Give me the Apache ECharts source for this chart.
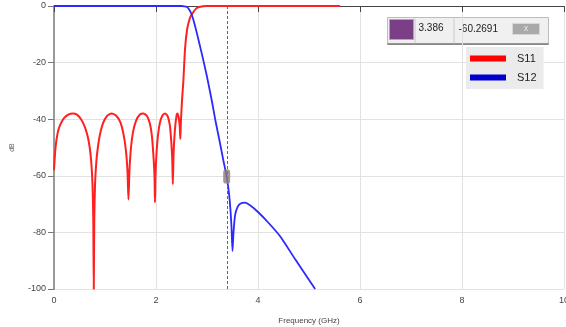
<!DOCTYPE html>
<html>
<head>
<meta charset="utf-8">
<script src="https://cdn.jsdelivr.net/npm/echarts@6/dist/echarts.min.js"></script>
<style>
  html, body { margin: 0; padding: 0; background: #fff; }
  #chart { width: 566px; height: 327px; }
</style>
</head>
<body>
<div id="chart"></div>
<script>
// S11 (red)
const s11Freq = [0, 0.03, 0.07, 0.12, 0.2, 0.3, 0.37, 0.45, 0.53, 0.6, 0.66, 0.7, 0.73, 0.755, 0.77, 0.78,
  0.79, 0.805, 0.83, 0.86, 0.9, 0.96, 1.04, 1.13, 1.22, 1.3, 1.36, 1.41, 1.44, 1.46,
  1.48, 1.51, 1.55, 1.61, 1.68, 1.75, 1.82, 1.88, 1.92, 1.95, 1.97, 1.98,
  1.99, 2.01, 2.04, 2.08, 2.13, 2.18, 2.23, 2.27, 2.3, 2.32, 2.33,
  2.345, 2.37, 2.4, 2.42, 2.445, 2.465, 2.477,
  2.49, 2.515, 2.535, 2.57, 2.61, 2.66, 2.7, 2.8, 2.92, 3.0, 5.61]
const s11Db = [-58, -50, -45, -42, -39.5, -38.2, -38, -38.4, -40, -42.5, -46, -50, -55, -63, -75, -100,
  -75, -63, -55, -50, -45.5, -41.5, -38.8, -38, -38.8, -41, -45, -51, -58, -68.4,
  -58, -50, -44.5, -40.5, -38.4, -38, -38.8, -41.5, -46, -53, -60, -69.4,
  -60, -52, -45.5, -41, -38.6, -38, -39, -42, -48, -55, -63,
  -52, -44, -39, -38, -39.5, -42.5, -47,
  -40, -32, -27, -15, -8.3, -4.5, -3, -0.7, -0.1, 0, 0]

// S12 (blue)
const s12Freq = [0, 2.5, 2.55, 2.6, 2.65, 2.7, 2.75, 2.8, 2.9, 3.0, 3.1, 3.16, 3.25, 3.32, 3.386,
  3.43, 3.46, 3.48, 3.5, 3.52, 3.55, 3.6, 3.66, 3.745, 3.85, 4.0, 4.2, 4.43, 4.73, 5.12]
const s12Db = [0, 0, -0.1, -0.3, -1.2, -3, -6, -9.5, -17, -25, -34, -40, -48, -54.5, -60.27,
  -66, -72, -78, -86.6, -80, -74, -71, -69.8, -69.5, -70.5, -72.8, -76.5, -81.3, -89.5, -100]

const markerFreq = 3.386
const markerDb = -60.2691

const xTicks = [0, 2, 4, 6, 8, 10]
const yTicks = [-100, -80, -60, -40, -20, 0]

const zip = (xs, ys) => xs.map((x, i) => [x, ys[i]])

const font = 'Liberation Sans, Arial, sans-serif'

const chart = echarts.init(document.getElementById('chart'))

const option = {
  animation: false,
  backgroundColor: '#fff',
  grid: { left: 54, right: 2, top: 6, bottom: 38, outerBoundsMode: 'none', containLabel: false },
  xAxis: {
    type: 'value',
    min: xTicks[0],
    max: xTicks[xTicks.length - 1],
    interval: 2,
    name: 'Frequency (GHz)',
    nameLocation: 'middle',
    nameGap: 28,
    nameTextStyle: { fontSize: 8, color: '#444', fontFamily: font },
    axisLine: { lineStyle: { color: '#444', width: 1 } },
    axisTick: { length: 6, lineStyle: { color: '#444' } },
    axisLabel: { fontSize: 9, color: '#444', fontFamily: font, margin: 7 },
    splitLine: { show: true, lineStyle: { color: '#e2e2e2', width: 1 } },
  },
  yAxis: {
    type: 'value',
    min: yTicks[0],
    max: yTicks[yTicks.length - 1],
    interval: 20,
    name: 'dB',
    nameLocation: 'middle',
    nameGap: 38,
    nameTextStyle: { fontSize: 7, color: '#666', fontFamily: font },
    axisLine: { show: true, lineStyle: { color: '#999', width: 2 } },
    axisTick: { show: true, length: 6, lineStyle: { color: '#777' } },
    axisLabel: { fontSize: 9, color: '#444', fontFamily: font, margin: 8 },
    splitLine: { show: true, lineStyle: { color: '#e2e2e2', width: 1 } },
  },
  legend: {
    left: 466,
    top: 47,
    orient: 'vertical',
    backgroundColor: '#ebebeb',
    padding: [6, 7, 6, 4],
    itemGap: 8,
    itemWidth: 36,
    itemHeight: 6,
    icon: 'rect',
    textStyle: { fontSize: 11, color: '#222', fontFamily: font, padding: [0, 0, 0, 6] },
    data: [
      { name: 'S11', itemStyle: { color: '#ff0000' } },
      { name: 'S12', itemStyle: { color: '#0000cc' } },
    ],
  },
  series: [
    {
      name: 'S11',
      type: 'line',
      data: zip(s11Freq, s11Db),
      showSymbol: false,
      smooth: 0.2,
      lineStyle: { color: '#ff2020', width: 2 },
      itemStyle: { color: '#ff2020' },
      z: 2,
    },
    {
      name: 'S12',
      type: 'line',
      data: zip(s12Freq, s12Db),
      showSymbol: false,
      smooth: 0.2,
      lineStyle: { color: '#2a2aff', width: 1.8 },
      itemStyle: { color: '#2a2aff' },
      z: 3,
      markLine: {
        silent: true,
        symbol: 'none',
        label: { show: false },
        lineStyle: { color: '#666', type: [3, 2], width: 1 },
        data: [{ xAxis: markerFreq }],
      },
    },
    {
      name: 'marker',
      type: 'scatter',
      data: [[markerFreq, markerDb]],
      symbol: 'roundRect',
      symbolSize: [7, 14],
      itemStyle: { color: '#8c7c78' },
      z: 5,
    },
  ],
  graphic: [
    {
      type: 'group',
      left: 385,
      top: 16,
      children: [
        { type: 'rect', shape: { x: 0, y: 0, width: 161, height: 27 }, style: { fill: '#f0f0f0', stroke: '#bdbdbd', lineWidth: 1 } },
        { type: 'line', shape: { x1: 0, y1: 26.5, x2: 161, y2: 26.5 }, style: { stroke: '#777', lineWidth: 1.5 } },
        { type: 'rect', shape: { x: 2, y: 2, width: 24, height: 20 }, style: { fill: '#7b3f87', stroke: '#aaa', lineWidth: 1 } },
        { type: 'line', shape: { x1: 27.5, y1: 1, x2: 27.5, y2: 26 }, style: { stroke: '#c8c8c8', lineWidth: 1 } },
        { type: 'line', shape: { x1: 66.5, y1: 1, x2: 66.5, y2: 26 }, style: { stroke: '#c8c8c8', lineWidth: 1 } },
        { type: 'text', x: 31, y: 6, style: { text: String(markerFreq), fontSize: 10, fill: '#222', fontFamily: font } },
        { type: 'text', x: 71, y: 7, style: { text: String(markerDb), fontSize: 10, fill: '#222', fontFamily: font } },
        { type: 'rect', shape: { x: 125, y: 6, width: 27, height: 11 }, style: { fill: '#a9a9a9', stroke: '#d8d8d8', lineWidth: 1 } },
        { type: 'text', x: 138.5, y: 11.5, style: { text: 'x', fontSize: 9, fill: '#e8e8e8', fontFamily: font, align: 'center', verticalAlign: 'middle' } },
      ],
    },
  ],
}

chart.setOption(option)
</script>
</body>
</html>
